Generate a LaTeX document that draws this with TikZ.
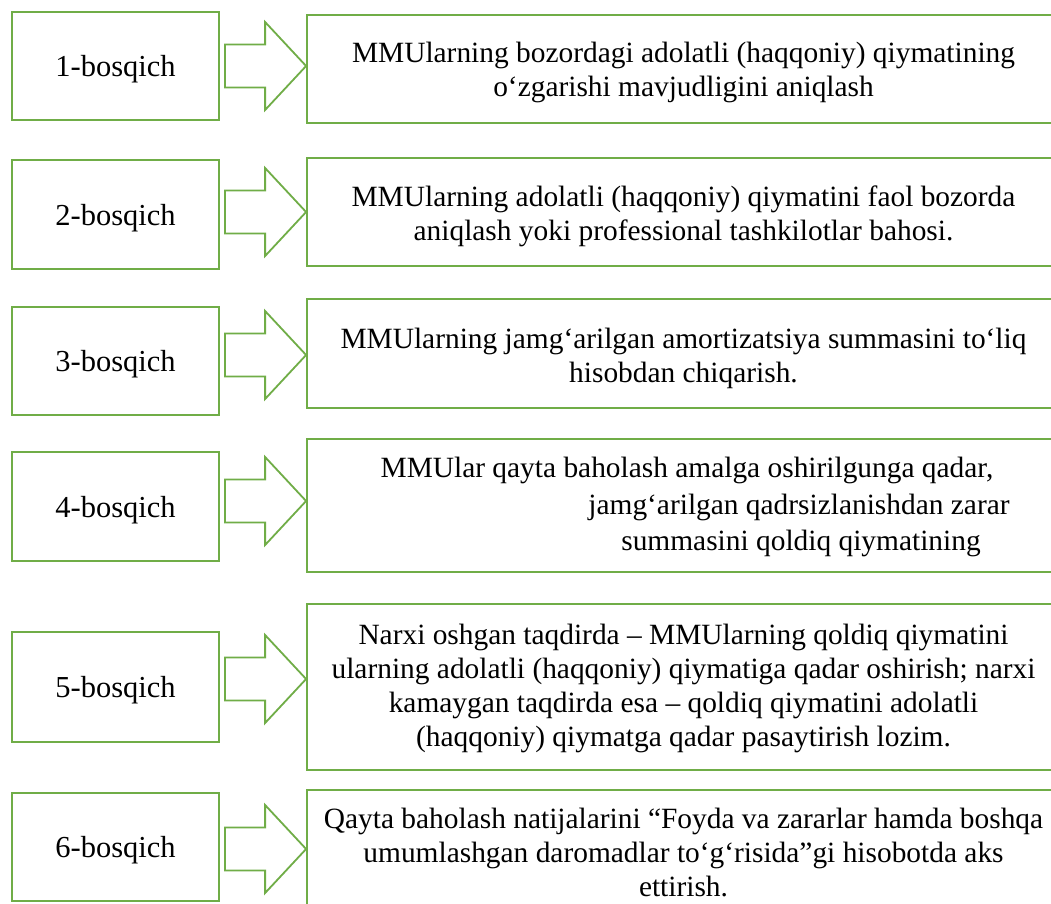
\documentclass[tikz,border=0pt]{standalone}
\usepackage{fontspec}
\setmainfont{Liberation Serif}
\usetikzlibrary{calc}
\definecolor{grn}{HTML}{70AD47}
\tikzset{
  lbox/.style={draw=grn, line width=1.8pt, minimum width=207pt, minimum height=108pt, inner sep=0pt, text height=21pt, text depth=-2pt, font=\fontsize{30.5pt}{35pt}\selectfont},
  rbox/.style={draw=grn, line width=1.8pt, minimum width=753pt, inner sep=0pt},
  rtext/.style={align=center, inner sep=0pt, font=\fontsize{29.4pt}{34pt}\selectfont},
  blockarr/.style={draw=grn, line width=1.8pt, fill=white, line join=miter},
}
\newcommand\stagearrow[3]{%
  \draw[blockarr] let \p1=(#1.east), \p2=(#2.west), \p3=(0,#3) in
    (\x1+5pt,\y3+21.5pt) -- (\x2-41pt,\y3+21.5pt) -- (\x2-41pt,\y3+44pt) -- (\x2,\y3)
    -- (\x2-41pt,\y3-44pt) -- (\x2-41pt,\y3-21.5pt) -- (\x1+5pt,\y3-21.5pt) -- cycle;}
\begin{document}
\begin{tikzpicture}[x=1pt,y=-1pt]
\useasboundingbox (0,0) rectangle (1051,903);
\clip (0,0) rectangle (1051,903);
\fill[white] (0,0) rectangle (1051,903);

% left boxes
\node[lbox] (L1) at (115.5,66) {1-bosqich};
\node[lbox, minimum height=109pt] (L2) at (115.5,214.5) {2-bosqich};
\node[lbox] (L3) at (115.5,361) {3-bosqich};
\node[lbox, minimum height=109pt] (L4) at (115.5,506.5) {4-bosqich};
\node[lbox, minimum height=110pt] (L5) at (115.5,687) {5-bosqich};
\node[lbox] (L6) at (115.5,847) {6-bosqich};

% right boxes
\node[rbox, minimum height=108pt] (R1) at (683.5,69) {};
\node[rbox, minimum height=108pt] (R2) at (683.5,212) {};
\node[rbox, minimum height=109pt] (R3) at (683.5,353.5) {};
\node[rbox, minimum height=133pt] (R4) at (683.5,505.5) {};
\node[rbox, minimum height=166pt] (R5) at (683.5,687) {};
\node[rbox, minimum height=130pt] (R6) at (683.5,855) {};

% texts
\node[rtext, yshift=-3pt] (T1) at (R1.center) {MMUlarning bozordagi adolatli (haqqoniy) qiymatining\\o‘zgarishi mavjudligini aniqlash};
\node[rtext, yshift=-4pt] (T2) at (R2.center) {MMUlarning adolatli (haqqoniy) qiymatini faol bozorda\\aniqlash yoki professional tashkilotlar bahosi.};
\node[rtext, yshift=-5pt] (T3) at (R3.center) {MMUlarning jamg‘arilgan amortizatsiya summasini to‘liq\\hisobdan chiqarish.};
\node[rtext, anchor=base] (T4a) at (687,477) {MMUlar qayta baholash amalga oshirilgunga qadar,};
\node[rtext, anchor=base] (T4b) at (799,514) {jamg‘arilgan qadrsizlanishdan zarar};
\node[rtext, anchor=base] (T4c) at (801,550) {summasini qoldiq qiymatining};
\node[rtext, yshift=-1.5pt] (T5) at (R5.center) {Narxi oshgan taqdirda – MMUlarning qoldiq qiymatini\\ularning adolatli (haqqoniy) qiymatiga qadar oshirish; narxi\\kamaygan taqdirda esa – qoldiq qiymatini adolatli\\(haqqoniy) qiymatga qadar pasaytirish lozim.};
\node[rtext, yshift=3pt] (T6) at (R6.center) {Qayta baholash natijalarini “Foyda va zararlar hamda boshqa\\umumlashgan daromadlar to‘g‘risida”gi hisobotda aks\\ettirish.};

% arrows
\stagearrow{L1}{R1}{66}
\stagearrow{L2}{R2}{212}
\stagearrow{L3}{R3}{355}
\stagearrow{L4}{R4}{501}
\stagearrow{L5}{R5}{679}
\stagearrow{L6}{R6}{849}
\end{tikzpicture}
\end{document}
